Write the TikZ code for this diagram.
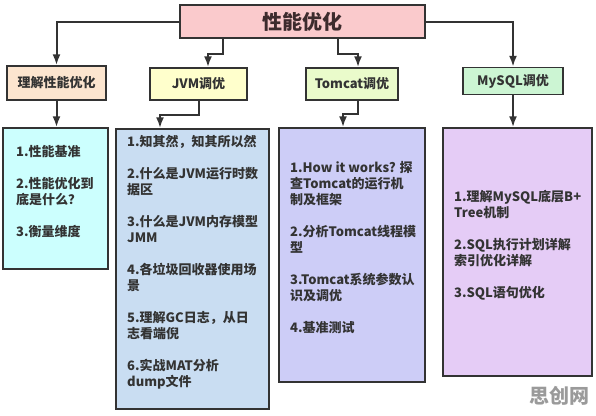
\documentclass[tikz,border=0pt]{standalone}
\usepackage{fontspec}
\setmainfont{Noto Sans CJK SC}
\usetikzlibrary{arrows.meta}
\definecolor{edge}{HTML}{333333}
\definecolor{txt}{HTML}{333333}
\definecolor{ttl}{HTML}{3D2B2D}
\definecolor{ctop}{HTML}{FACACC}
\definecolor{cla}{HTML}{FCE5CF}
\definecolor{clb}{HTML}{FFFFCC}
\definecolor{clc}{HTML}{EAFBCB}
\definecolor{cld}{HTML}{CCF5D3}
\definecolor{cca}{HTML}{CCFFFE}
\definecolor{ccb}{HTML}{C9DDF2}
\definecolor{ccc}{HTML}{CDCDF7}
\definecolor{ccd}{HTML}{E5CCF6}
\definecolor{wm}{HTML}{9A9A9A}
\begin{document}
\begin{tikzpicture}[x=1pt,y=-1pt,
  boxst/.style={draw=edge, line width=1.4pt, inner sep=0pt, font=\fontsize{13}{16}\selectfont\bfseries, text=txt},
  arr/.style={draw=edge, line width=2pt, -{Latex[length=11pt,width=8pt]}},
  body/.style={anchor=west, inner sep=0pt, align=left, font=\fontsize{13}{16}\selectfont\bfseries, text=txt}]
\useasboundingbox (0,0) rectangle (596,415);
% top
\node[boxst, fill=ctop, minimum width=245pt, minimum height=33pt, font=\fontsize{20}{24}\selectfont\bfseries, text=ttl] (top) at (302.5,21.5) {性能优化};
% level 2
\node[boxst, fill=cla, minimum width=99pt, minimum height=34pt] (l1) at (56.5,83) {理解性能优化};
\node[boxst, fill=clb, minimum width=97pt, minimum height=32pt] (l2) at (198.5,84) {JVM调优};
\node[boxst, fill=clc, minimum width=92pt, minimum height=32pt] (l3) at (352,84) {Tomcat调优};
\node[boxst, fill=cld, minimum width=100pt, minimum height=27pt] (l4) at (513,81) {MySQL调优};
% level 3
\node[boxst, fill=cca, minimum width=105pt, minimum height=141pt] (c1) at (55.5,198.5) {};
\node[boxst, fill=ccb, minimum width=153pt, minimum height=280pt] (c2) at (192.5,269) {};
\node[boxst, fill=ccc, minimum width=146pt, minimum height=254pt] (c3) at (352,255) {};
\node[boxst, fill=ccd, minimum width=149pt, minimum height=248pt] (c4) at (517.5,252) {};
% texts
\node[body] (t1) at (16,191.5) {1.性能基准\\[16pt]2.性能优化到\\底是什么？\\[16pt]3.衡量维度};
\node[body] (t2) at (127,262) {1.知其然，知其所以然\\[16pt]2.什么是JVM运行时数\\据区\\[16pt]3.什么是JVM内存模型\\JMM\\[16pt]4.各垃圾回收器使用场\\景\\[16pt]5.理解GC日志，从日\\志看端倪\\[16pt]6.实战MAT分析\\dump文件};
\node[body] (t3) at (290,247.5) {1.How it works? 探\\查Tomcat的运行机\\制及框架\\[16pt]2.分析Tomcat线程模\\型\\[16pt]3.Tomcat系统参数认\\识及调优\\[16pt]4.基准测试};
\node[body] (t4) at (454,245) {1.理解MySQL底层B+\\Tree机制\\[16pt]2.SQL执行计划详解\\索引优化详解\\[16pt]3.SQL语句优化};
% watermark
\node[inner sep=0pt, font=\fontsize{20}{24}\selectfont\bfseries, text=wm] (wmk) at (559,396) {思创网};
% connectors top -> level 2
\draw[arr] (top.west) -| (l1.north);
\draw[arr] ([xshift=-79.5pt]top.south) -- ++(0,15.5) -| ([xshift=9.5pt]l2.north);
\draw[arr] ([xshift=35.5pt]top.south) -- ++(0,15.5) -| ([xshift=6pt]l3.north);
\draw[arr] (top.east) -| (l4.north);
% level 2 -> level 3
\draw[arr] (l1.south) -- (l1.south |- c1.north);
\draw[arr] (l2.south) -- ++(0,14) -| ([xshift=-32.5pt]c2.north);
\draw[arr] ([xshift=6pt]l3.south) -- ++(0,13) -| ([xshift=-9pt]c3.north);
\draw[arr] (l4.south) -- (l4.south |- c4.north);
\end{tikzpicture}
\end{document}
